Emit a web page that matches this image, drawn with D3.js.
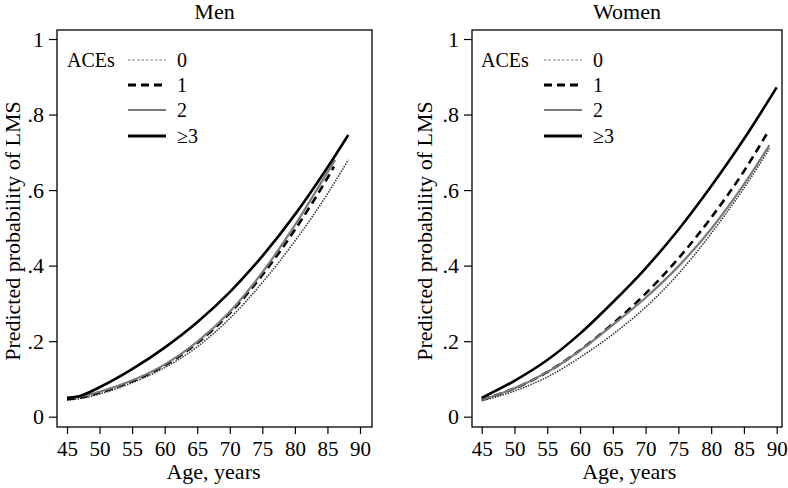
<!DOCTYPE html>
<html><head><meta charset="utf-8">
<script src="https://cdn.jsdelivr.net/npm/d3@7"></script>
<style>body{margin:0;background:#fff}svg{display:block}</style>
</head><body><svg id="c" width="788" height="488"></svg>
<script>
// ----- data -----
const groups = ["0", "1", "2", "≥3"];
const xTicks = [45, 50, 55, 60, 65, 70, 75, 80, 85, 90];
const yTicks = [0, 0.2, 0.4, 0.6, 0.8, 1];
const yTickLabels = ["0", ".2", ".4", ".6", ".8", "1"];

// Men
const menAge0 = [45, 47, 50, 55, 60, 65, 70, 75, 80, 85, 88.2];
const menP0   = [0.044, 0.048, 0.060, 0.090, 0.130, 0.185, 0.260, 0.355, 0.465, 0.590, 0.680];
const menAge1 = [45, 47, 50, 55, 60, 65, 70, 75, 80, 85, 86];
const menP1   = [0.046, 0.050, 0.064, 0.094, 0.136, 0.195, 0.274, 0.375, 0.495, 0.632, 0.662];
const menAge2 = [45, 47, 50, 55, 60, 65, 70, 75, 80, 85, 86.2];
const menP2   = [0.050, 0.053, 0.066, 0.096, 0.138, 0.198, 0.278, 0.382, 0.507, 0.647, 0.680];
const menAge3 = [45, 47, 50, 55, 60, 65, 70, 75, 80, 85, 88.2];
const menP3   = [0.050, 0.055, 0.078, 0.126, 0.183, 0.250, 0.330, 0.425, 0.535, 0.660, 0.746];

// Women
const womenAge0 = [45, 50, 55, 60, 65, 70, 75, 80, 85, 88.9];
const womenP0   = [0.042, 0.068, 0.105, 0.157, 0.218, 0.290, 0.378, 0.485, 0.605, 0.710];
const womenAge1 = [45, 50, 55, 60, 65, 70, 75, 80, 85, 88.7];
const womenP1   = [0.045, 0.075, 0.118, 0.176, 0.246, 0.326, 0.419, 0.527, 0.650, 0.755];
const womenAge2 = [45, 50, 55, 60, 65, 70, 75, 80, 85, 88.9];
const womenP2   = [0.045, 0.075, 0.118, 0.175, 0.243, 0.315, 0.398, 0.497, 0.615, 0.719];
const womenAge3 = [45, 50, 55, 60, 65, 70, 75, 80, 85, 90];
const womenP3   = [0.050, 0.095, 0.150, 0.220, 0.303, 0.393, 0.495, 0.610, 0.735, 0.872];

// ----- styles -----
const styles = [
  {stroke: "#3a3a3a", width: 1.6, dash: "1.5,1.2", legDash: "2.5,2", legStroke: "#777", legWidth: 1.2},
  {stroke: "#000", width: 2.6, dash: "8,5", legDash: "8,5", legStroke: "#000", legWidth: 3},
  {stroke: "#7a7a7a", width: 2.2, dash: null, legDash: null, legStroke: "#7a7a7a", legWidth: 2},
  {stroke: "#000", width: 2.6, dash: null, legDash: null, legStroke: "#000", legWidth: 3}
];

const FONT = "'Liberation Serif','Times New Roman',Times,serif";
const svg = d3.select("#c");

const panels = [
  {title: "Men", frame: {l: 57, r: 372, t: 30, b: 427}, xr: [67, 360], ylabX: 20,
   ages: [menAge0, menAge1, menAge2, menAge3], vals: [menP0, menP1, menP2, menP3],
   leg: {acesX: 67, lineX0: 128, lineX1: 166, labX: 177}},
  {title: "Women", frame: {l: 472, r: 782, t: 30, b: 427}, xr: [481.7, 776.7], ylabX: 432,
   ages: [womenAge0, womenAge1, womenAge2, womenAge3], vals: [womenP0, womenP1, womenP2, womenP3],
   leg: {acesX: 481, lineX0: 544, lineX1: 582, labX: 593}}
];

const legRowsY = [60, 85, 110, 136];

panels.forEach(p => {
  const g = svg.append("g");
  const x = d3.scaleLinear().domain([45, 90]).range(p.xr);
  const y = d3.scaleLinear().domain([0, 1]).range([416.7, 39]);
  const f = p.frame;

  // title
  g.append("text").attr("x", (f.l + f.r) / 2).attr("y", 19)
    .attr("text-anchor", "middle").attr("font-family", FONT).attr("font-size", 22)
    .text(p.title);

  // lines
  const line = d3.line().x(d => x(d[0])).y(d => y(d[1])).curve(d3.curveMonotoneX);
  p.ages.forEach((ages, i) => {
    const pts = ages.map((a, j) => [a, p.vals[i][j]]);
    const s = styles[i];
    g.append("path").attr("d", line(pts)).attr("fill", "none")
      .attr("stroke", s.stroke).attr("stroke-width", s.width)
      .attr("stroke-dasharray", s.dash);
  });

  // frame
  g.append("rect").attr("x", f.l).attr("y", f.t).attr("width", f.r - f.l).attr("height", f.b - f.t)
    .attr("fill", "none").attr("stroke", "#000").attr("stroke-width", 1.3);

  // y axis
  const ya = g.append("g").attr("transform", `translate(${f.l},0)`)
    .call(d3.axisLeft(y).tickValues(yTicks).tickFormat((d, i) => yTickLabels[i]).tickSize(8).tickPadding(5));
  ya.select(".domain").remove();
  ya.selectAll("text").attr("font-family", FONT).attr("font-size", 22).attr("fill", "#000");
  ya.selectAll("line").attr("stroke", "#000").attr("stroke-width", 1.2);

  // x axis
  const xa = g.append("g").attr("transform", `translate(0,${f.b})`)
    .call(d3.axisBottom(x).tickValues(xTicks).tickSize(7).tickPadding(7));
  xa.select(".domain").remove();
  xa.selectAll("text").attr("font-family", FONT).attr("font-size", 21).attr("fill", "#000");
  xa.selectAll("line").attr("stroke", "#000").attr("stroke-width", 1.2);

  // axis titles
  g.append("text").attr("x", (p.xr[0] + p.xr[1]) / 2).attr("y", 479)
    .attr("text-anchor", "middle").attr("font-family", FONT).attr("font-size", 22)
    .text("Age, years");
  g.append("text").attr("transform", `translate(${p.ylabX},231) rotate(-90)`)
    .attr("text-anchor", "middle").attr("font-family", FONT).attr("font-size", 22)
    .text("Predicted probability of LMS");

  // legend
  const L = p.leg;
  g.append("text").attr("x", L.acesX).attr("y", 67).attr("font-family", FONT).attr("font-size", 20)
    .text("ACEs");
  groups.forEach((lab, i) => {
    const s = styles[i];
    const yy = legRowsY[i];
    g.append("line").attr("x1", L.lineX0).attr("x2", L.lineX1).attr("y1", yy).attr("y2", yy)
      .attr("stroke", s.legStroke).attr("stroke-width", s.legWidth).attr("stroke-dasharray", s.legDash);
    g.append("text").attr("x", L.labX).attr("y", yy + 7).attr("font-family", FONT).attr("font-size", 20)
      .text(lab);
  });
});
</script></body></html>
